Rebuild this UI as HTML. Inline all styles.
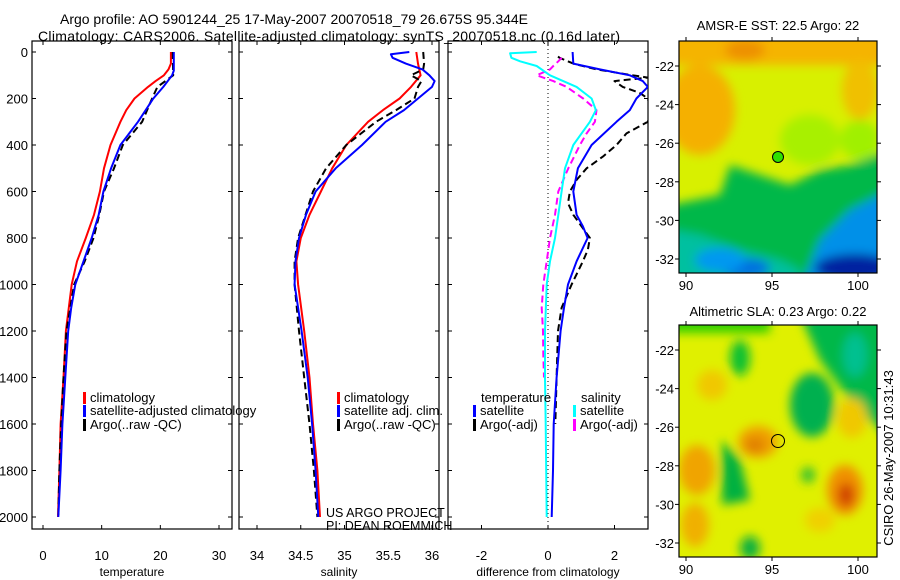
<!DOCTYPE html>
<html><head><meta charset="utf-8">
<style>
html,body{margin:0;padding:0;background:#fff;}
svg{display:block;font-family:"Liberation Sans",Arial,sans-serif;}
</style></head>
<body>
<svg id="chart" width="900" height="580" viewBox="0 0 900 580">
<defs>
<filter id="blur6" x="-20%" y="-20%" width="140%" height="140%"><feGaussianBlur stdDeviation="5"/></filter>
<clipPath id="clipMap1"><rect x="679" y="41" width="198" height="232"/></clipPath>
<clipPath id="clipMap2"><rect x="679" y="325" width="198" height="232"/></clipPath>
<clipPath id="clipP1"><rect x="32" y="41" width="200" height="488"/></clipPath>
<clipPath id="clipP2"><rect x="239" y="41" width="200" height="488"/></clipPath>
<clipPath id="clipP3"><rect x="448" y="41" width="200" height="488"/></clipPath>
</defs>
<text x="60" y="24" font-size="14" textLength="468">Argo profile: AO 5901244_25 17-May-2007 20070518_79 26.675S 95.344E</text>
<text x="38" y="41" font-size="14" textLength="582">Climatology: CARS2006. Satellite-adjusted climatology: synTS_20070518.nc (0.16d later)</text>

<!-- map 1 -->
<g clip-path="url(#clipMap1)">
<rect x="679" y="41" width="198" height="232" fill="#d8f000"/>
<g filter="url(#blur6)">
<rect x="670" y="30" width="220" height="35" fill="#f5b400"/>
<ellipse cx="700" cy="110" rx="35" ry="45" fill="#f5b000"/>
<ellipse cx="745" cy="50" rx="20" ry="10" fill="#ee9000"/>
<ellipse cx="860" cy="90" rx="18" ry="30" fill="#f0c000"/>
<ellipse cx="810" cy="140" rx="30" ry="25" fill="#a8f000"/>
<ellipse cx="860" cy="140" rx="20" ry="20" fill="#a0f000"/>
<polygon points="670,205 720,195 730,165 760,175 790,185 820,170 850,165 890,150 890,290 670,290" fill="#00b848"/>
<polygon points="670,230 700,235 740,250 780,260 800,270 800,290 670,290" fill="#00c0a0"/>
<polygon points="820,240 850,210 890,190 890,290 800,290" fill="#0090e8"/>
<ellipse cx="745" cy="268" rx="25" ry="10" fill="#0070e0"/>
<ellipse cx="855" cy="268" rx="40" ry="14" fill="#0020a0"/>
<ellipse cx="720" cy="260" rx="25" ry="12" fill="#0098f0"/>
</g>
</g>
<rect x="679" y="41" width="198" height="232" fill="none" stroke="#000" stroke-width="1.2"/>
<circle cx="778" cy="157" r="5.5" fill="#30e000" stroke="#000" stroke-width="1"/>
<text x="778" y="30" font-size="13" text-anchor="middle">AMSR-E SST: 22.5 Argo: 22</text>

<!-- map 2 -->
<g clip-path="url(#clipMap2)">
<rect x="679" y="325" width="198" height="232" fill="#e0f000"/>
<g filter="url(#blur6)">
<rect x="670" y="315" width="100" height="18" fill="#30d000"/>
<polygon points="800,315 890,315 890,440 850,400 820,360" fill="#00b848"/>
<ellipse cx="855" cy="355" rx="12" ry="22" fill="#00c090"/>
<ellipse cx="812" cy="405" rx="22" ry="32" fill="#00b050"/>
<ellipse cx="740" cy="358" rx="10" ry="18" fill="#10c030"/>
<polygon points="722,440 740,460 750,500 722,505" fill="#00b040"/>
<ellipse cx="750" cy="548" rx="10" ry="12" fill="#10b040"/>
<ellipse cx="808" cy="475" rx="7" ry="8" fill="#30c030"/>
<ellipse cx="758" cy="442" rx="20" ry="16" fill="#f0a000"/>
<ellipse cx="755" cy="445" rx="10" ry="8" fill="#e08000"/>
<ellipse cx="697" cy="470" rx="18" ry="25" fill="#f0a400"/>
<ellipse cx="695" cy="525" rx="14" ry="22" fill="#f0b000"/>
<ellipse cx="845" cy="490" rx="18" ry="25" fill="#f09000"/>
<ellipse cx="846" cy="495" rx="8" ry="12" fill="#d04000"/>
<ellipse cx="852" cy="418" rx="15" ry="20" fill="#f0c800"/>
<ellipse cx="712" cy="385" rx="15" ry="15" fill="#f0c800"/>
<ellipse cx="820" cy="520" rx="15" ry="12" fill="#f0d000"/>
</g>
</g>
<rect x="679" y="325" width="198" height="232" fill="none" stroke="#000" stroke-width="1.2"/>
<circle cx="778" cy="441" r="6.5" fill="none" stroke="#000" stroke-width="1"/>
<text x="778" y="316" font-size="13" text-anchor="middle">Altimetric SLA: 0.23 Argo: 0.22</text>
<text transform="translate(893,458) rotate(-90)" font-size="13" text-anchor="middle">CSIRO 26-May-2007 10:31:43</text>

<g id="plots"></g>
</svg>
<script>
// ---- data ----
var depthTicks = [0,200,400,600,800,1000,1200,1400,1600,1800,2000];
var tempTicks = [0,10,20,30];
var salTicks = [34,34.5,35,35.5,36];
var diffTicks = [-2,0,2];
var latTicks = [-22,-24,-26,-28,-30,-32];
var lonTicks = [90,95,100];

var tClimDepth = [0,50,75,100,125,150,200,250,300,400,500,600,700,800,900,1000,1100,1200,1400,1600,1800,2000];
var tClim      = [21.8,21.8,21.4,20.6,19.2,17.9,15.6,14.2,13.2,11.5,10.4,9.7,8.7,7.3,5.8,4.9,4.4,3.9,3.5,3.0,2.8,2.55];
var tSatDepth  = [0,80,100,150,200,250,300,400,500,600,700,800,900,1000,1100,1200,1400,1600,1800,2000];
var tSat       = [22.3,22.3,22.0,20.5,18.8,17.5,16.2,13.2,11.6,10.3,9.5,8.3,6.9,5.5,4.8,4.3,3.8,3.3,3.0,2.6];
var tArgoDepth = [0,100,150,200,300,400,500,600,700,800,900,1000,1200,1400,1600,1800,2000];
var tArgo      = [22.1,22.2,19.5,18.6,16.9,13.6,12.1,10.4,9.6,8.6,7.1,5.3,4.0,3.5,3.1,2.8,2.6];

var sClimDepth = [0,50,100,150,200,250,300,400,500,600,700,800,900,1000,1200,1400,1600,1800,2000];
var sClim      = [35.82,35.84,35.87,35.76,35.63,35.44,35.27,35.02,34.86,34.73,34.6,34.5,34.45,34.47,34.54,34.6,34.64,34.69,34.72];
var sSatDepth  = [0,10,25,50,75,100,125,150,200,250,300,400,500,600,700,800,900,1000,1200,1400,1600,1800,2000];
var sSat       = [35.74,35.53,35.55,35.7,35.89,35.97,36.03,36.0,35.84,35.68,35.47,35.2,34.9,34.67,34.56,34.48,34.44,34.43,34.51,34.58,34.63,34.67,34.7];
var sArgoDepth = [0,50,75,100,125,150,200,250,300,400,500,600,800,900,1000,1200,1400,1600,1800,2000];
var sArgo      = [35.9,35.91,35.9,35.76,35.88,35.84,35.8,35.59,35.36,35.02,34.79,34.64,34.47,34.43,34.43,34.48,34.54,34.6,34.65,34.69];

var dTSatDepth  = [0,50,75,100,125,150,200,250,300,400,500,600,700,750,800,900,1000,1100,1200,1400,1600,1800,2000];
var dTSat       = [0.74,0.76,1.56,2.46,2.85,3.0,2.66,2.46,2.06,1.31,0.9,0.76,0.86,1.05,1.19,0.86,0.6,0.48,0.38,0.26,0.17,0.15,0.11];
var dTArgoDepth = [20,25,50,75,100,110,125,150,175,200,250,300,350,400,450,500,550,600,650,700,750,800,850,900,1000,1100,1200,1300,1400,1600];
var dTArgo      = [0.3,0.35,0.76,1.46,2.55,3.0,2.0,2.25,2.75,3.0,3.1,3.0,2.36,2.06,1.65,1.16,0.86,0.66,0.6,0.76,1.01,1.26,1.2,1.05,0.71,0.41,0.3,0.28,0.26,0.22];
var dSSatDepth  = [0,5,25,40,60,100,150,200,250,300,400,500,600,700,800,900,1000,1200,1400,1600,2000];
var dSSat       = [-0.34,-1.14,-1.1,-0.84,-0.34,0.06,0.86,1.31,1.44,1.26,0.76,0.51,0.41,0.31,0.21,0.06,-0.04,-0.09,-0.09,-0.07,-0.04];
var dSArgoDepth = [25,40,60,75,100,125,150,200,250,300,350,400,500,600,700,800,900,1000,1100,1200,1300,1400];
var dSArgo      = [0.41,0.31,0.16,0.06,-0.34,0.16,0.56,1.06,1.46,1.41,1.16,0.96,0.61,0.31,0.21,0.06,-0.04,-0.14,-0.19,-0.15,-0.14,-0.12];

// ---- scales ----
var Y0 = 52, Y1 = 517;
function yDepth(d){ return Y0 + d*(Y1-Y0)/2000; }
function xTemp(v){ return 43 + v*(219-43)/30; }
function xSal(v){ return 257 + (v-34)*(432-257)/2; }
function xDiff(v){ return 548 + v*(614-481)/4; }
function xLon(v){ return 686 + (v-90)*(858-686)/10; }
function yLat1(v){ return 66 + (-22-v)*(259-66)/10; }
function yLat2(v){ return 350 + (-22-v)*(543-350)/10; }

var NS = "http://www.w3.org/2000/svg";
var root = document.getElementById('plots');
function el(tag, attrs, parent){
  var e = document.createElementNS(NS, tag);
  for (var k in attrs) e.setAttribute(k, attrs[k]);
  (parent||root).appendChild(e);
  return e;
}
function txt(x,y,s,size,anchor,name){
  var t = el('text',{x:x,y:y,'font-size':size,'text-anchor':anchor||'start'});
  t.textContent = s;
  
  
  return t;
}
function line(depths, vals, xf, color, dash, name, clip){
  var pts = depths.map(function(d,i){ return xf(vals[i]).toFixed(1)+','+yDepth(d).toFixed(1); }).join(' ');
  var a = {points:pts, fill:'none', stroke:color, 'stroke-width':2, 'stroke-linejoin':'round'};
  if (dash) a['stroke-dasharray'] = dash;
  a['clip-path'] = 'url(#'+clip+')';
  var p = el('polyline', a);
  
  
}

var panels = [
  {x0:32, x1:232, xf:xTemp, ticks:tempTicks, title:'temperature', name:'temperature-panel', labels:true},
  {x0:239, x1:439, xf:xSal, ticks:salTicks, title:'salinity', name:'salinity-panel', labels:false},
  {x0:448, x1:648, xf:xDiff, ticks:diffTicks, title:'difference from climatology', name:'difference-panel', labels:false}
];
panels.forEach(function(p){
  var f = el('rect',{x:p.x0,y:41,width:p.x1-p.x0,height:488,fill:'none',stroke:'#000','stroke-width':1.2});
  
  
  p.ticks.forEach(function(t){
    var x = p.xf(t);
    el('line',{x1:x,x2:x,y1:41,y2:45,stroke:'#000'});
    el('line',{x1:x,x2:x,y1:529,y2:525,stroke:'#000'});
    txt(x, 560, String(t), 13, 'middle', p.name+'-x-tick-label');
  });
  depthTicks.forEach(function(d){
    var y = yDepth(d);
    el('line',{x1:p.x0,x2:p.x0+4,y1:y,y2:y,stroke:'#000'});
    el('line',{x1:p.x1,x2:p.x1-4,y1:y,y2:y,stroke:'#000'});
    if (p.labels) txt(28, y+5, String(d), 13, 'end', 'depth-tick-label');
  });
  txt((p.x0+p.x1)/2, 576, p.title, 12, 'middle', p.name+'-x-axis-title');
});
var zl = el('line',{x1:xDiff(0),x2:xDiff(0),y1:41,y2:529,stroke:'#000','stroke-dasharray':'1,3'});



line(tClimDepth, tClim, xTemp, '#ff0000', null, 'temp-climatology-line', 'clipP1');
line(tArgoDepth, tArgo, xTemp, '#000000', '7,4', 'temp-argo-line', 'clipP1');
line(tSatDepth, tSat, xTemp, '#0000ff', null, 'temp-satellite-line', 'clipP1');
line(sClimDepth, sClim, xSal, '#ff0000', null, 'sal-climatology-line', 'clipP2');
line(sArgoDepth, sArgo, xSal, '#000000', '7,4', 'sal-argo-line', 'clipP2');
line(sSatDepth, sSat, xSal, '#0000ff', null, 'sal-satellite-line', 'clipP2');
line(dTArgoDepth, dTArgo, xDiff, '#000000', '7,4', 'diff-temp-argo-line', 'clipP3');
line(dTSatDepth, dTSat, xDiff, '#0000ff', null, 'diff-temp-satellite-line', 'clipP3');
line(dSArgoDepth, dSArgo, xDiff, '#ff00ff', '7,4', 'diff-sal-argo-line', 'clipP3');
line(dSSatDepth, dSSat, xDiff, '#00ffff', null, 'diff-sal-satellite-line', 'clipP3');

function legendEntry(x,y,color,label,name){
  var b = el('rect',{x:x,y:y-10,width:3,height:12,fill:color});
  
  
  txt(x+7, y, label, 13, 'start', name);
}
legendEntry(83,402,'#ff0000','climatology','temp-legend-climatology');
legendEntry(83,415,'#0000ff','satellite-adjusted climatology','temp-legend-satellite');
legendEntry(83,429,'#000000','Argo(..raw -QC)','temp-legend-argo');
legendEntry(337,402,'#ff0000','climatology','sal-legend-climatology');
legendEntry(337,415,'#0000ff','satellite adj. clim.','sal-legend-satellite');
legendEntry(337,429,'#000000','Argo(..raw -QC)','sal-legend-argo');
txt(481,402,'temperature',13,'start','diff-legend-temperature-header');
txt(581,402,'salinity',13,'start','diff-legend-salinity-header');
legendEntry(473,415,'#0000ff','satellite','diff-legend-temp-satellite');
legendEntry(473,429,'#000000','Argo(-adj)','diff-legend-temp-argo');
legendEntry(573,415,'#00ffff','satellite','diff-legend-sal-satellite');
legendEntry(573,429,'#ff00ff','Argo(-adj)','diff-legend-sal-argo');
txt(326,517,'US ARGO PROJECT',12.5,'start','project-credit');
txt(326,530,'PI: DEAN ROEMMICH',12.5,'start','pi-credit');

[[41,273,yLat1,283,'sst'],[325,557,yLat2,567,'sla']].forEach(function(m){
  lonTicks.forEach(function(v){
    var x = xLon(v);
    el('line',{x1:x,x2:x,y1:m[0],y2:m[0]-4,stroke:'#000'});
    el('line',{x1:x,x2:x,y1:m[1],y2:m[1]+4,stroke:'#000'});
    txt(x, m[3]+7, String(v), 13, 'middle', m[4]+'-lon-tick-label');
  });
  latTicks.forEach(function(v){
    var y = m[2](v);
    el('line',{x1:679,x2:675,y1:y,y2:y,stroke:'#000'});
    el('line',{x1:877,x2:881,y1:y,y2:y,stroke:'#000'});
    txt(674, y+5, String(v), 13, 'end', m[4]+'-lat-tick-label');
  });
});
</script>
</body></html>
